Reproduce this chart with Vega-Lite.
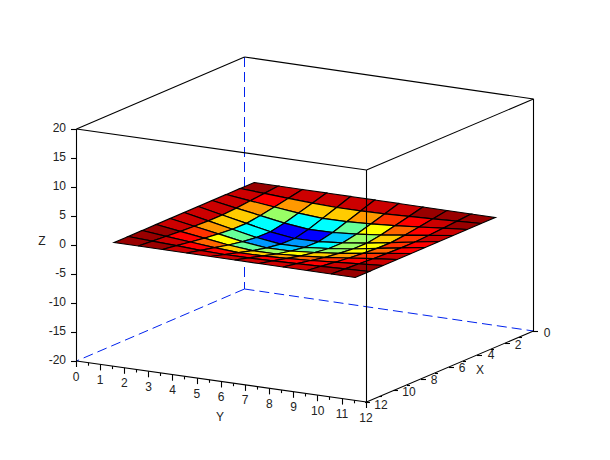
{"$schema":"https://vega.github.io/schema/vega-lite/v6.json","width":610,"height":460,"autosize":{"type":"fit","contains":"padding"},"padding":0,"background":"white","config":{"view":{"stroke":null}},
"datasets":{
"verts":[
{"k":0,"sx":254.2,"sy":182.5},{"k":100,"sx":278.3,"sy":186},{"k":200,"sx":302.4,"sy":189.5},{"k":300,"sx":326.5,"sy":193},{"k":400,"sx":350.6,"sy":196.5},{"k":500,"sx":374.7,"sy":200},{"k":600,"sx":398.8,"sy":203.5},{"k":700,"sx":422.9,"sy":207},{"k":800,"sx":447,"sy":210.5},{"k":900,"sx":471.1,"sy":214},{"k":1000,"sx":495.2,"sy":217.5},
{"k":1,"sx":240.2,"sy":188.5},{"k":101,"sx":264.3,"sy":193.4},{"k":201,"sx":288.4,"sy":198.3},{"k":301,"sx":312.5,"sy":203.1},{"k":401,"sx":336.6,"sy":207.5},{"k":501,"sx":360.7,"sy":210.9},{"k":601,"sx":384.8,"sy":213.8},{"k":701,"sx":408.9,"sy":216.4},{"k":801,"sx":433,"sy":218.8},{"k":901,"sx":457.1,"sy":221.1},{"k":1001,"sx":481.2,"sy":223.5},
{"k":2,"sx":226.2,"sy":194.5},{"k":102,"sx":250.3,"sy":200.8},{"k":202,"sx":274.4,"sy":207},{"k":302,"sx":298.5,"sy":213.1},{"k":402,"sx":322.6,"sy":218.4},{"k":502,"sx":346.7,"sy":221.7},{"k":602,"sx":370.8,"sy":223.9},{"k":702,"sx":394.9,"sy":225.7},{"k":802,"sx":419,"sy":227},{"k":902,"sx":443.1,"sy":228.2},{"k":1002,"sx":467.2,"sy":229.5},
{"k":3,"sx":212.2,"sy":200.5},{"k":103,"sx":236.3,"sy":208.1},{"k":203,"sx":260.4,"sy":215.6},{"k":303,"sx":284.5,"sy":223.1},{"k":403,"sx":308.6,"sy":229.3},{"k":503,"sx":332.7,"sy":232.5},{"k":603,"sx":356.8,"sy":234.1},{"k":703,"sx":380.9,"sy":235},{"k":803,"sx":405,"sy":235.1},{"k":903,"sx":429.1,"sy":235.3},{"k":1003,"sx":453.2,"sy":235.5},
{"k":4,"sx":198.2,"sy":206.5},{"k":104,"sx":222.3,"sy":215},{"k":204,"sx":246.4,"sy":223.4},{"k":304,"sx":270.5,"sy":231.8},{"k":404,"sx":294.6,"sy":238.5},{"k":504,"sx":318.7,"sy":241.6},{"k":604,"sx":342.8,"sy":242.8},{"k":704,"sx":366.9,"sy":243.2},{"k":804,"sx":391,"sy":242.6},{"k":904,"sx":415.1,"sy":242},{"k":1004,"sx":439.2,"sy":241.5},
{"k":5,"sx":184.2,"sy":212.5},{"k":105,"sx":208.3,"sy":220.9},{"k":205,"sx":232.4,"sy":229.2},{"k":305,"sx":256.5,"sy":237.5},{"k":405,"sx":280.6,"sy":244.1},{"k":505,"sx":304.7,"sy":247.3},{"k":605,"sx":328.8,"sy":248.5},{"k":705,"sx":352.9,"sy":249},{"k":805,"sx":377,"sy":248.4},{"k":905,"sx":401.1,"sy":247.9},{"k":1005,"sx":425.2,"sy":247.5},
{"k":6,"sx":170.2,"sy":218.5},{"k":106,"sx":194.3,"sy":226.3},{"k":206,"sx":218.4,"sy":233.9},{"k":306,"sx":242.5,"sy":241.6},{"k":406,"sx":266.6,"sy":247.8},{"k":506,"sx":290.7,"sy":251},{"k":606,"sx":314.8,"sy":252.5},{"k":706,"sx":338.9,"sy":253.4},{"k":806,"sx":363,"sy":253.4},{"k":906,"sx":387.1,"sy":253.4},{"k":1006,"sx":411.2,"sy":253.5},
{"k":7,"sx":156.2,"sy":224.5},{"k":107,"sx":180.3,"sy":231.4},{"k":207,"sx":204.4,"sy":238.2},{"k":307,"sx":228.5,"sy":245},{"k":407,"sx":252.6,"sy":250.7},{"k":507,"sx":276.7,"sy":254},{"k":607,"sx":300.8,"sy":255.9},{"k":707,"sx":324.9,"sy":257.3},{"k":807,"sx":349,"sy":258},{"k":907,"sx":373.1,"sy":258.7},{"k":1007,"sx":397.2,"sy":259.5},
{"k":8,"sx":142.2,"sy":230.5},{"k":108,"sx":166.3,"sy":236.3},{"k":208,"sx":190.4,"sy":242},{"k":308,"sx":214.5,"sy":247.6},{"k":408,"sx":238.6,"sy":252.6},{"k":508,"sx":262.7,"sy":255.9},{"k":608,"sx":286.8,"sy":258.4},{"k":708,"sx":310.9,"sy":260.5},{"k":808,"sx":335,"sy":262.2},{"k":908,"sx":359.1,"sy":263.8},{"k":1008,"sx":383.2,"sy":265.5},
{"k":9,"sx":128.2,"sy":236.5},{"k":109,"sx":152.3,"sy":241.1},{"k":209,"sx":176.4,"sy":245.7},{"k":309,"sx":200.5,"sy":250.3},{"k":409,"sx":224.6,"sy":254.5},{"k":509,"sx":248.7,"sy":257.9},{"k":609,"sx":272.8,"sy":260.9},{"k":709,"sx":296.9,"sy":263.7},{"k":809,"sx":321,"sy":266.3},{"k":909,"sx":345.1,"sy":268.9},{"k":1009,"sx":369.2,"sy":271.5},
{"k":10,"sx":114.2,"sy":242.5},{"k":110,"sx":138.3,"sy":246},{"k":210,"sx":162.4,"sy":249.5},{"k":310,"sx":186.5,"sy":253},{"k":410,"sx":210.6,"sy":256.5},{"k":510,"sx":234.7,"sy":260},{"k":610,"sx":258.8,"sy":263.5},{"k":710,"sx":282.9,"sy":267},{"k":810,"sx":307,"sy":270.5},{"k":910,"sx":331.1,"sy":274},{"k":1010,"sx":355.2,"sy":277.5}
],
"cells":[
{"cell":0,"level":0,"k":[0,100,101,1]},{"cell":100,"level":1,"k":[100,200,201,101]},{"cell":200,"level":1,"k":[200,300,301,201]},{"cell":300,"level":1,"k":[300,400,401,301]},{"cell":400,"level":1,"k":[400,500,501,401]},{"cell":500,"level":1,"k":[500,600,601,501]},{"cell":600,"level":1,"k":[600,700,701,601]},{"cell":700,"level":0,"k":[700,800,801,701]},{"cell":800,"level":0,"k":[800,900,901,801]},{"cell":900,"level":0,"k":[900,1000,1001,901]},
{"cell":1,"level":1,"k":[1,101,102,2]},{"cell":101,"level":2,"k":[101,201,202,102]},{"cell":201,"level":5,"k":[201,301,302,202]},{"cell":301,"level":6,"k":[301,401,402,302]},{"cell":401,"level":6,"k":[401,501,502,402]},{"cell":501,"level":5,"k":[501,601,602,502]},{"cell":601,"level":3,"k":[601,701,702,602]},{"cell":701,"level":2,"k":[701,801,802,702]},{"cell":801,"level":1,"k":[801,901,902,802]},{"cell":901,"level":0,"k":[901,1001,1002,902]},
{"cell":2,"level":1,"k":[2,102,103,3]},{"cell":102,"level":5,"k":[102,202,203,103]},{"cell":202,"level":8,"k":[202,302,303,203]},{"cell":302,"level":10,"k":[302,402,403,303]},{"cell":402,"level":10,"k":[402,502,503,403]},{"cell":502,"level":9,"k":[502,602,603,503]},{"cell":602,"level":7,"k":[602,702,703,603]},{"cell":702,"level":4,"k":[702,802,803,703]},{"cell":802,"level":2,"k":[802,902,903,803]},{"cell":902,"level":1,"k":[902,1002,1003,903]},
{"cell":3,"level":1,"k":[3,103,104,4]},{"cell":103,"level":6,"k":[103,203,204,104]},{"cell":203,"level":10,"k":[203,303,304,204]},{"cell":303,"level":13,"k":[303,403,404,304]},{"cell":403,"level":13,"k":[403,503,504,404]},{"cell":503,"level":11,"k":[503,603,604,504]},{"cell":603,"level":8,"k":[603,703,704,604]},{"cell":703,"level":6,"k":[703,803,804,704]},{"cell":803,"level":3,"k":[803,903,904,804]},{"cell":903,"level":1,"k":[903,1003,1004,904]},
{"cell":4,"level":1,"k":[4,104,105,5]},{"cell":104,"level":6,"k":[104,204,205,105]},{"cell":204,"level":10,"k":[204,304,305,205]},{"cell":304,"level":13,"k":[304,404,405,305]},{"cell":404,"level":12,"k":[404,504,505,405]},{"cell":504,"level":10,"k":[504,604,605,505]},{"cell":604,"level":8,"k":[604,704,705,605]},{"cell":704,"level":7,"k":[704,804,805,705]},{"cell":804,"level":3,"k":[804,904,905,805]},{"cell":904,"level":2,"k":[904,1004,1005,905]},
{"cell":5,"level":1,"k":[5,105,106,6]},{"cell":105,"level":5,"k":[105,205,206,106]},{"cell":205,"level":9,"k":[205,305,306,206]},{"cell":305,"level":12,"k":[305,405,406,306]},{"cell":405,"level":11,"k":[405,505,506,406]},{"cell":505,"level":9,"k":[505,605,606,506]},{"cell":605,"level":8,"k":[605,705,706,606]},{"cell":705,"level":7,"k":[705,805,806,706]},{"cell":805,"level":4,"k":[805,905,906,806]},{"cell":905,"level":2,"k":[905,1005,1006,906]},
{"cell":6,"level":1,"k":[6,106,107,7]},{"cell":106,"level":3,"k":[106,206,207,107]},{"cell":206,"level":7,"k":[206,306,307,207]},{"cell":306,"level":9,"k":[306,406,407,307]},{"cell":406,"level":8,"k":[406,506,507,407]},{"cell":506,"level":7,"k":[506,606,607,507]},{"cell":606,"level":6,"k":[606,706,707,607]},{"cell":706,"level":5,"k":[706,806,807,707]},{"cell":806,"level":3,"k":[806,906,907,807]},{"cell":906,"level":1,"k":[906,1006,1007,907]},
{"cell":7,"level":0,"k":[7,107,108,8]},{"cell":107,"level":2,"k":[107,207,208,108]},{"cell":207,"level":4,"k":[207,307,308,208]},{"cell":307,"level":6,"k":[307,407,408,308]},{"cell":407,"level":6,"k":[407,507,508,408]},{"cell":507,"level":5,"k":[507,607,608,508]},{"cell":607,"level":4,"k":[607,707,708,608]},{"cell":707,"level":3,"k":[707,807,808,708]},{"cell":807,"level":2,"k":[807,907,908,808]},{"cell":907,"level":1,"k":[907,1007,1008,908]},
{"cell":8,"level":0,"k":[8,108,109,9]},{"cell":108,"level":1,"k":[108,208,209,109]},{"cell":208,"level":2,"k":[208,308,309,209]},{"cell":308,"level":2,"k":[308,408,409,309]},{"cell":408,"level":2,"k":[408,508,509,409]},{"cell":508,"level":2,"k":[508,608,609,509]},{"cell":608,"level":2,"k":[608,708,709,609]},{"cell":708,"level":2,"k":[708,808,809,709]},{"cell":808,"level":1,"k":[808,908,909,809]},{"cell":908,"level":0,"k":[908,1008,1009,909]},
{"cell":9,"level":0,"k":[9,109,110,10]},{"cell":109,"level":0,"k":[109,209,210,110]},{"cell":209,"level":1,"k":[209,309,310,210]},{"cell":309,"level":1,"k":[309,409,410,310]},{"cell":409,"level":1,"k":[409,509,510,410]},{"cell":509,"level":1,"k":[509,609,610,510]},{"cell":609,"level":1,"k":[609,709,710,610]},{"cell":709,"level":1,"k":[709,809,810,710]},{"cell":809,"level":0,"k":[809,909,910,810]},{"cell":909,"level":0,"k":[909,1009,1010,910]}
],
"box":[
{"sx":76.5,"sy":129,"sx2":244.5,"sy2":57},{"sx":244.5,"sy":57,"sx2":533.5,"sy2":99},{"sx":533.5,"sy":99,"sx2":366.5,"sy2":170},{"sx":366.5,"sy":170,"sx2":76.5,"sy2":129},
{"sx":76.5,"sy":129,"sx2":76.5,"sy2":361},{"sx":533.5,"sy":99,"sx2":533.5,"sy2":331},{"sx":76.5,"sy":361,"sx2":366.5,"sy2":402},{"sx":366.5,"sy":402,"sx2":533.5,"sy2":331},
{"sx":71,"sy":129.5,"sx2":76,"sy2":129.5},{"sx":71,"sy":158.5,"sx2":76,"sy2":158.5},{"sx":71,"sy":187.5,"sx2":76,"sy2":187.5},{"sx":71,"sy":216.5,"sx2":76,"sy2":216.5},{"sx":71,"sy":245.5,"sx2":76,"sy2":245.5},{"sx":71,"sy":274.5,"sx2":76,"sy2":274.5},{"sx":71,"sy":303.5,"sx2":76,"sy2":303.5},{"sx":71,"sy":332.5,"sx2":76,"sy2":332.5},{"sx":71,"sy":361.5,"sx2":76,"sy2":361.5},
{"sx":76.5,"sy":361,"sx2":76.5,"sy2":367},{"sx":100.5,"sy":364.4,"sx2":100.5,"sy2":370.4},{"sx":124.5,"sy":367.8,"sx2":124.5,"sy2":373.8},{"sx":148.5,"sy":371.3,"sx2":148.5,"sy2":377.3},{"sx":172.5,"sy":374.7,"sx2":172.5,"sy2":380.7},{"sx":197.5,"sy":378.1,"sx2":197.5,"sy2":384.1},{"sx":221.5,"sy":381.5,"sx2":221.5,"sy2":387.5},{"sx":245.5,"sy":384.9,"sx2":245.5,"sy2":390.9},{"sx":269.5,"sy":388.4,"sx2":269.5,"sy2":394.4},{"sx":293.5,"sy":391.8,"sx2":293.5,"sy2":397.8},{"sx":317.5,"sy":395.2,"sx2":317.5,"sy2":401.2},{"sx":342.5,"sy":398.6,"sx2":342.5,"sy2":404.6},{"sx":366.5,"sy":402,"sx2":366.5,"sy2":408},
{"sx":88.5,"sy":362.7,"sx2":88.5,"sy2":365.7},{"sx":112.5,"sy":366.1,"sx2":112.5,"sy2":369.1},{"sx":136.5,"sy":369.5,"sx2":136.5,"sy2":372.5},{"sx":160.5,"sy":373,"sx2":160.5,"sy2":376},{"sx":184.5,"sy":376.4,"sx2":184.5,"sy2":379.4},{"sx":209.5,"sy":379.8,"sx2":209.5,"sy2":382.8},{"sx":233.5,"sy":383.2,"sx2":233.5,"sy2":386.2},{"sx":257.5,"sy":386.6,"sx2":257.5,"sy2":389.6},{"sx":281.5,"sy":390.1,"sx2":281.5,"sy2":393.1},{"sx":305.5,"sy":393.5,"sx2":305.5,"sy2":396.5},{"sx":329.5,"sy":396.9,"sx2":329.5,"sy2":399.9},{"sx":354.5,"sy":400.3,"sx2":354.5,"sy2":403.3},
{"sx":533,"sy":331.5,"sx2":538,"sy2":331.5},{"sx":505,"sy":343.5,"sx2":510,"sy2":343.5},{"sx":477,"sy":355.5,"sx2":482,"sy2":355.5},{"sx":449,"sy":367.5,"sx2":454,"sy2":367.5},{"sx":421,"sy":379.5,"sx2":426,"sy2":379.5},{"sx":393,"sy":390.5,"sx2":398,"sy2":390.5},{"sx":365,"sy":402.5,"sx2":370,"sy2":402.5},
{"sx":519,"sy":337.5,"sx2":522,"sy2":337.5},{"sx":491,"sy":349.5,"sx2":494,"sy2":349.5},{"sx":463,"sy":361.5,"sx2":466,"sy2":361.5},{"sx":435,"sy":373.5,"sx2":438,"sy2":373.5},{"sx":407,"sy":385.5,"sx2":410,"sy2":385.5},{"sx":379,"sy":396.5,"sx2":382,"sy2":396.5}
],
"hidden":[{"sx":244.5,"sy":57,"sx2":244.5,"sy2":289},{"sx":244.5,"sy":289,"sx2":76.5,"sy2":361},{"sx":244.5,"sy":289,"sx2":533.5,"sy2":331}],
"front":[{"sx":366.5,"sy":170,"sx2":366.5,"sy2":402}],
"zlabels":[{"sx":66,"sy":127.5,"t":"20"},{"sx":66,"sy":156.5,"t":"15"},{"sx":66,"sy":185.5,"t":"10"},{"sx":66,"sy":214.5,"t":"5"},{"sx":66,"sy":243.5,"t":"0"},{"sx":66,"sy":272.5,"t":"-5"},{"sx":66,"sy":301.5,"t":"-10"},{"sx":66,"sy":330.5,"t":"-15"},{"sx":66,"sy":359.5,"t":"-20"}],
"labels":[{"sx":76,"sy":376.5,"t":"0"},{"sx":100.2,"sy":380,"t":"1"},{"sx":124.3,"sy":383.3,"t":"2"},{"sx":148.5,"sy":386.8,"t":"3"},{"sx":172.7,"sy":390.2,"t":"4"},{"sx":196.9,"sy":393.6,"t":"5"},{"sx":221,"sy":397,"t":"6"},{"sx":245.2,"sy":400.4,"t":"7"},{"sx":269.4,"sy":403.9,"t":"8"},{"sx":293.5,"sy":407.3,"t":"9"},{"sx":317.7,"sy":410.7,"t":"10"},{"sx":341.9,"sy":414.1,"t":"11"},{"sx":366,"sy":417.5,"t":"12"},
{"sx":547,"sy":332.5,"t":"0"},{"sx":518,"sy":344.5,"t":"2"},{"sx":491,"sy":355,"t":"4"},{"sx":462,"sy":367.5,"t":"6"},{"sx":434,"sy":379.5,"t":"8"},{"sx":409,"sy":392,"t":"10"},{"sx":381,"sy":404.5,"t":"12"},
{"sx":220,"sy":417,"t":"Y"},{"sx":480,"sy":370,"t":"X"},{"sx":42,"sy":241,"t":"Z"}]
},
"encoding":{
"x":{"field":"sx","type":"quantitative","axis":null,"scale":{"domain":[0,610],"nice":false,"zero":false}},
"y":{"field":"sy","type":"quantitative","axis":null,"scale":{"domain":[460,0],"nice":false,"zero":false}}
},
"layer":[
{"data":{"name":"hidden"},"mark":{"type":"rule","color":"#0022ee","strokeWidth":1,"strokeDash":[10,5]},"encoding":{"x2":{"field":"sx2"},"y2":{"field":"sy2"}}},
{"data":{"name":"box"},"mark":{"type":"rule","color":"#000000","strokeWidth":1.1},"encoding":{"x2":{"field":"sx2"},"y2":{"field":"sy2"}}},
{"data":{"name":"cells"},"transform":[{"flatten":["k"]},{"window":[{"op":"row_number","as":"o"}]},{"lookup":"k","from":{"data":{"name":"verts"},"key":"k","fields":["sx","sy"]}}],
"mark":{"type":"line","interpolate":"linear-closed","stroke":"#000000","strokeWidth":1.2,"filled":true},
"encoding":{"detail":{"field":"cell","type":"nominal"},"order":{"field":"o","type":"quantitative"},"fill":{"field":"level","type":"ordinal","legend":null,"scale":{"domain":[0,1,2,3,4,5,6,7,8,9,10,11,12,13],"range":["#990000","#cc0000","#ff0000","#ff3300","#ff6600","#ff9900","#ffcc00","#ffff00","#99ff66","#66ff99","#00ffff","#00ccff","#0099ff","#0000ff"]}}}},
{"data":{"name":"front"},"mark":{"type":"rule","color":"#000000","strokeWidth":1.1},"encoding":{"x2":{"field":"sx2"},"y2":{"field":"sy2"}}},
{"data":{"name":"zlabels"},"mark":{"type":"text","align":"right","baseline":"middle","font":"Liberation Sans","fontSize":12,"color":"#222222"},"encoding":{"text":{"field":"t"}}},
{"data":{"name":"labels"},"mark":{"type":"text","align":"center","baseline":"middle","font":"Liberation Sans","fontSize":12,"color":"#222222"},"encoding":{"text":{"field":"t"}}}
]}
